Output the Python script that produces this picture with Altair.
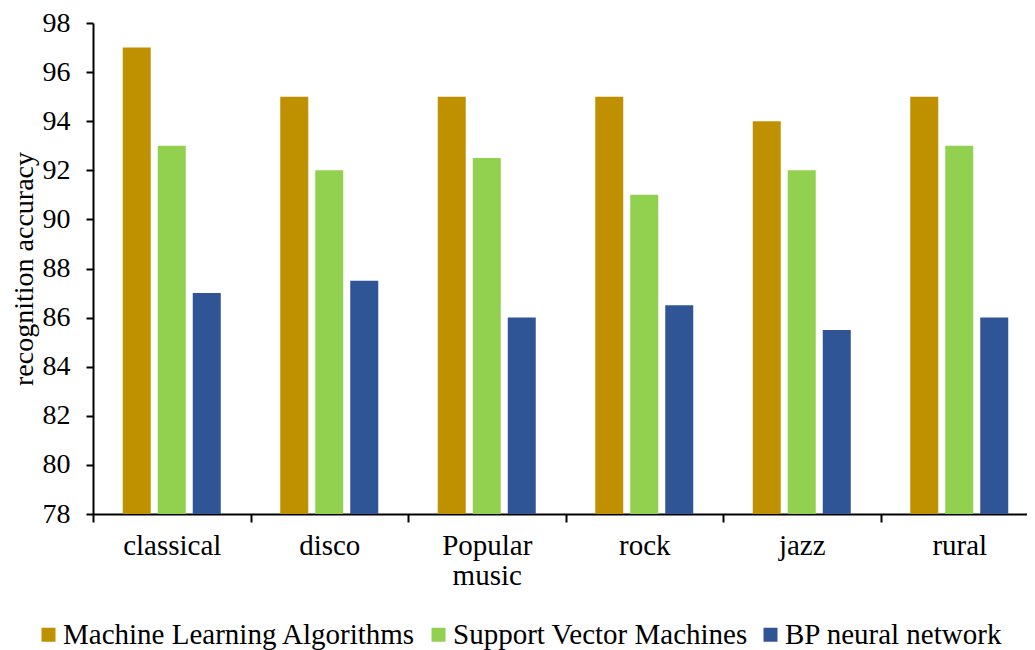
import altair as alt
import pandas as pd

genres = ["classical", "disco", "Popular music", "rock", "jazz", "rural"]
series = ["Machine Learning Algorithms", "Support Vector Machines", "BP neural network"]
ml = [97, 95, 95, 95, 94, 95]
svm = [93, 92, 92.5, 91, 92, 93]
bp = [87, 87.5, 86, 86.5, 85.5, 86]
colors = ["#BF9000", "#92D050", "#2F5597"]

rows = []
for s, vals in zip(series, [ml, svm, bp]):
    for g, v in zip(genres, vals):
        rows.append({"genre": g, "method": s, "value": v})
df = pd.DataFrame(rows)

FONT = "Liberation Serif"
FS = 28

chart = alt.Chart(df).mark_bar().encode(
    x=alt.X("genre:N", sort=genres, title=None,
            scale=alt.Scale(paddingInner=0, paddingOuter=0),
            axis=alt.Axis(labelAngle=0, tickBand="extent", tickSize=8, tickWidth=2,
                          domainWidth=2, domainColor="black", tickColor="black",
                          labelFont=FONT, labelFontSize=29, labelColor="black",
                          labelPadding=9, labelExpr="split(datum.label, ' ')",
                          labelLineHeight=30)),
    xOffset=alt.XOffset("method:N", sort=series,
                        scale=alt.Scale(paddingInner=0.2, paddingOuter=0.85)),
    y=alt.Y("value:Q", title="recognition accuracy",
            scale=alt.Scale(domain=[78, 98], nice=False, zero=False),
            axis=alt.Axis(values=list(range(78, 99, 2)), grid=False, tickSize=7, tickWidth=2,
                          domainWidth=2, domainColor="black", tickColor="black",
                          labelFont=FONT, labelFontSize=FS, labelColor="black",
                          labelPadding=16, titleFont=FONT, titleFontSize=FS,
                          titleFontWeight="normal", titleColor="black", titlePadding=4)),
    y2=alt.datum(78),
    color=alt.Color("method:N", sort=series, title=None,
                    scale=alt.Scale(domain=series, range=colors),
                    legend=alt.Legend(orient="none", legendX=-59, legendY=597,
                                      direction="horizontal",
                                      symbolType="square", symbolSize=196,
                                      symbolStrokeWidth=0, symbolOpacity=1,
                                      labelFont=FONT, labelFontSize=29, labelColor="black",
                                      labelOffset=0, columnPadding=8,
                                      labelLimit=500)),
).properties(
    width=945, height=491,
    autosize=alt.AutoSizeParams(type="none"),
    padding={"top": 15, "left": 85, "right": -11, "bottom": 136},
).configure_view(stroke=None)

chart.save("out.html", embed_options={"renderer": "svg", "actions": False})
